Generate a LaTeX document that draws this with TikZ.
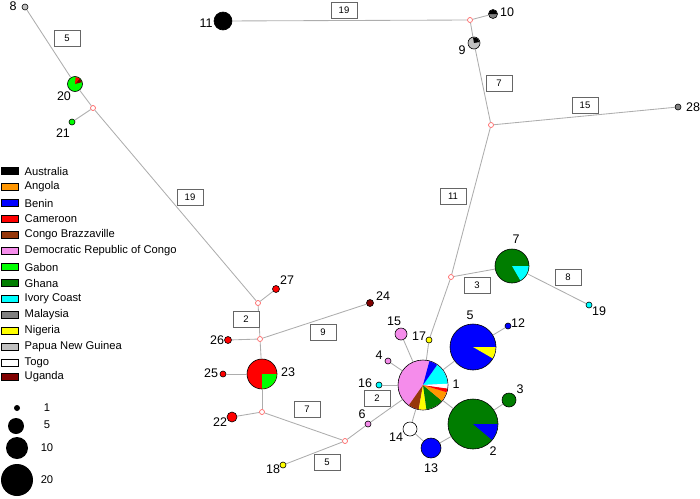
\documentclass[tikz,border=0pt]{standalone}
\usepackage{fontspec}
\setmainfont{Liberation Sans}
\definecolor{australia}{RGB}{0,0,0}
\definecolor{angola}{RGB}{255,150,0}
\definecolor{benin}{RGB}{0,0,255}
\definecolor{cameroon}{RGB}{255,0,0}
\definecolor{congob}{RGB}{150,55,10}
\definecolor{drc}{RGB}{245,140,235}
\definecolor{gabon}{RGB}{0,255,0}
\definecolor{ghana}{RGB}{0,125,0}
\definecolor{ivory}{RGB}{0,255,255}
\definecolor{malaysia}{RGB}{128,128,128}
\definecolor{nigeria}{RGB}{255,255,0}
\definecolor{png}{RGB}{192,192,192}
\definecolor{togo}{RGB}{255,255,255}
\definecolor{uganda}{RGB}{128,0,0}
\newcommand\pieslice[5]{\fill[#5] (#1.center) -- ++(#3:#2) arc[start angle=#3, end angle=#4, radius=#2] -- cycle;}

\begin{document}
\begin{tikzpicture}[x=1pt,y=1pt,font=\fontsize{12.5}{14}\selectfont,
    hap/.style={circle,draw=black,line width=0.6pt,inner sep=0pt},
    median/.style={circle,draw=red!60,fill=white,line width=0.7pt,inner sep=0pt,minimum size=5pt},
    link/.style={draw=black!32,line width=0.85pt},
    mutbox/.style={draw=black!60,fill=white,line width=0.7pt,minimum width=26pt,minimum height=16pt,inner sep=0pt,font=\fontsize{9.5}{10}\selectfont},
    legtext/.style={anchor=west,inner sep=0pt,font=\fontsize{11.2}{13}\selectfont}]
      \useasboundingbox (0,0) rectangle (700,-498);

      \node (m1) at (93,-108) [median] {};
      \node (m2) at (258,-303) [median] {};
      \node (m3) at (470,-20) [median] {};
      \node (m4) at (491,-125) [median] {};
      \node (m5) at (451,-277) [median] {};
      \node (m6) at (260,-339) [median] {};
      \node (m7) at (262,-412) [median] {};
      \node (m8) at (345,-441) [median] {};

      \node (h1) at (423,-385) [hap,minimum size=50pt,fill=drc] {};
      \node (h2) at (473,-424) [hap,minimum size=50pt,fill=ghana] {};
      \node (h3) at (509,-400) [hap,minimum size=14pt,fill=ghana] {};
      \node (h4) at (388,-361) [hap,minimum size=6pt,fill=drc] {};
      \node (h5) at (473,-347) [hap,minimum size=46pt,fill=benin] {};
      \node (h6) at (368,-424) [hap,minimum size=6pt,fill=drc] {};
      \node (h7) at (512,-266) [hap,minimum size=34pt,fill=ghana] {};
      \node (h8) at (25,-7) [hap,minimum size=6pt,fill=png] {};
      \node (h9) at (474,-43) [hap,minimum size=12pt,fill=png] {};
      \node (h10) at (493,-14) [hap,minimum size=9pt,fill=malaysia] {};
      \node (h11) at (223,-21) [hap,minimum size=18pt,fill=australia] {};
      \node (h12) at (508,-326) [hap,minimum size=6pt,fill=benin] {};
      \node (h13) at (431,-448) [hap,minimum size=20pt,fill=benin] {};
      \node (h14) at (410,-429) [hap,minimum size=14pt,fill=togo] {};
      \node (h15) at (401,-334) [hap,minimum size=12pt,fill=drc] {};
      \node (h16) at (379,-385) [hap,minimum size=6pt,fill=ivory] {};
      \node (h17) at (429,-340) [hap,minimum size=6pt,fill=nigeria] {};
      \node (h18) at (283,-465) [hap,minimum size=6pt,fill=nigeria] {};
      \node (h19) at (589,-305) [hap,minimum size=6pt,fill=ivory] {};
      \node (h20) at (75,-84) [hap,minimum size=15pt,fill=gabon] {};
      \node (h21) at (72,-122) [hap,minimum size=6pt,fill=gabon] {};
      \node (h22) at (232,-417) [hap,minimum size=10pt,fill=cameroon] {};
      \node (h23) at (262,-374) [hap,minimum size=30pt,fill=cameroon] {};
      \node (h24) at (370,-303) [hap,minimum size=7pt,fill=uganda] {};
      \node (h25) at (223,-374) [hap,minimum size=6pt,fill=cameroon] {};
      \node (h26) at (228,-340) [hap,minimum size=7pt,fill=cameroon] {};
      \node (h27) at (276,-289) [hap,minimum size=7pt,fill=cameroon] {};
      \node (h28) at (678,-107) [hap,minimum size=6pt,fill=malaysia] {};

      \pieslice{h1}{24.6pt}{3}{55}{ivory}
      \pieslice{h1}{24.6pt}{55}{75}{benin}
      \pieslice{h1}{24.6pt}{235}{260}{congob}
      \pieslice{h1}{24.6pt}{260}{278}{nigeria}
      \pieslice{h1}{24.6pt}{278}{320}{ghana}
      \pieslice{h1}{24.6pt}{320}{343}{angola}
      \pieslice{h1}{24.6pt}{343}{352}{cameroon}
      \pieslice{h1}{24.6pt}{352}{363}{togo}
      \pieslice{h5}{22.6pt}{-30}{0}{nigeria}
      \pieslice{h2}{24.6pt}{-40}{0}{benin}
      \pieslice{h7}{16.6pt}{-60}{0}{ivory}
      \pieslice{h23}{14.6pt}{-90}{0}{gabon}
      \pieslice{h9}{5.6pt}{10}{100}{australia}
      \pieslice{h10}{4.1pt}{0}{180}{australia}
      \pieslice{h20}{7.1pt}{15}{50}{uganda}
      \pieslice{h20}{7.1pt}{50}{85}{cameroon}

      \draw[link] (h8) -- (h20);
      \draw[link] (h20) -- (m1);
      \draw[link] (m1) -- (h21);
      \draw[link] (m1) -- (m2);
      \draw[link] (m2) -- (h27);
      \draw[link] (m2) -- (m6);
      \draw[link] (m6) -- (h26);
      \draw[link] (m6) -- (h24);
      \draw[link] (m6) -- (h23);
      \draw[link] (h23) -- (h25);
      \draw[link] (h23) -- (m7);
      \draw[link] (m7) -- (h22);
      \draw[link] (m7) -- (m8);
      \draw[link] (m8) -- (h18);
      \draw[link] (m8) -- (h6);
      \draw[link] (h6) -- (h1);
      \draw[link] (h1) -- (h16);
      \draw[link] (h1) -- (h4);
      \draw[link] (h1) -- (h15);
      \draw[link] (h1) -- (h17);
      \draw[link] (h17) -- (m5);
      \draw[link] (m5) -- (m4);
      \draw[link] (m5) -- (h7);
      \draw[link] (h7) -- (h19);
      \draw[link] (m4) -- (h28);
      \draw[link] (m4) -- (h9);
      \draw[link] (h9) -- (m3);
      \draw[link] (m3) -- (h10);
      \draw[link] (m3) -- (h11);
      \draw[link] (h1) -- (h5);
      \draw[link] (h5) -- (h12);
      \draw[link] (h1) -- (h2);
      \draw[link] (h2) -- (h3);
      \draw[link] (h1) -- (h14);
      \draw[link] (h14) -- (h13);
      \draw[link] (h13) -- (h2);

      \node (b1) at (67,-38) [mutbox] {5};
      \node (b2) at (190,-197) [mutbox] {19};
      \node (b3) at (344,-10) [mutbox] {19};
      \node (b4) at (499,-83) [mutbox] {7};
      \node (b5) at (585,-105) [mutbox] {15};
      \node (b6) at (453,-196) [mutbox] {11};
      \node (b7) at (477,-285) [mutbox] {3};
      \node (b8) at (568,-277) [mutbox] {8};
      \node (b9) at (246,-319) [mutbox] {2};
      \node (b10) at (323,-332) [mutbox] {9};
      \node (b11) at (307,-409) [mutbox] {7};
      \node (b12) at (327,-462) [mutbox] {5};
      \node (b13) at (377,-398) [mutbox] {2};

      \node (t1) at (456,-384) {1};
      \node (t2) at (493,-451) {2};
      \node (t3) at (520,-389) {3};
      \node (t4) at (379,-355) {4};
      \node (t5) at (470,-315) {5};
      \node (t6) at (362,-414) {6};
      \node (t7) at (516,-239) {7};
      \node (t8) at (13,-6) {8};
      \node (t9) at (462,-50) {9};
      \node (t10) at (507,-12) {10};
      \node (t11) at (206,-23) {11};
      \node (t12) at (518,-323) {12};
      \node (t13) at (431,-468) {13};
      \node (t14) at (396,-437) {14};
      \node (t15) at (394,-321) {15};
      \node (t16) at (365,-383) {16};
      \node (t17) at (419,-336) {17};
      \node (t18) at (273,-469) {18};
      \node (t19) at (599,-311) {19};
      \node (t20) at (64,-96) {20};
      \node (t21) at (63,-133) {21};
      \node (t22) at (220,-422) {22};
      \node (t23) at (288,-372) {23};
      \node (t24) at (383,-296) {24};
      \node (t25) at (211,-373) {25};
      \node (t26) at (217,-340) {26};
      \node (t27) at (287,-280) {27};
      \node (t28) at (693,-107) {28};

      \draw[fill=australia] (1,-167.5) rectangle (18,-174.5);
      \node (k1) at (24.5,-171) [legtext] {Australia};
      \draw[fill=angola] (1,-183.5) rectangle (18,-190.5);
      \node (k2) at (24.5,-187) [legtext] {Angola};
      \draw[fill=benin] (1,-199.5) rectangle (18,-206.5);
      \node (k3) at (24.5,-203) [legtext] {Benin};
      \draw[fill=cameroon] (1,-215.5) rectangle (18,-222.5);
      \node (k4) at (24.5,-219) [legtext] {Cameroon};
      \draw[fill=congob] (1,-231.5) rectangle (18,-238.5);
      \node (k5) at (24.5,-235) [legtext] {Congo Brazzaville};
      \draw[fill=drc] (1,-247.5) rectangle (18,-254.5);
      \node (k6) at (24.5,-251) [legtext] {Democratic Republic of Congo};
      \draw[fill=gabon] (1,-263.5) rectangle (18,-270.5);
      \node (k7) at (24.5,-267) [legtext] {Gabon};
      \draw[fill=ghana] (1,-279.5) rectangle (18,-286.5);
      \node (k8) at (24.5,-283) [legtext] {Ghana};
      \draw[fill=ivory] (1,-295.5) rectangle (18,-302.5);
      \node (k9) at (24.5,-299) [legtext] {Ivory Coast};
      \draw[fill=malaysia] (1,-311.5) rectangle (18,-318.5);
      \node (k10) at (24.5,-315) [legtext] {Malaysia};
      \draw[fill=nigeria] (1,-327.5) rectangle (18,-334.5);
      \node (k11) at (24.5,-331) [legtext] {Nigeria};
      \draw[fill=png] (1,-343.5) rectangle (18,-350.5);
      \node (k12) at (24.5,-347) [legtext] {Papua New Guinea};
      \draw[fill=togo] (1,-359.5) rectangle (18,-366.5);
      \node (k13) at (24.5,-363) [legtext] {Togo};
      \draw[fill=uganda] (1,-373.5) rectangle (18,-380.5);
      \node (k14) at (24.5,-377) [legtext] {Uganda};

      \node (s1) at (17,-408) [circle,fill=black,inner sep=0pt,minimum size=6pt] {};
      \node (s5) at (16,-426) [circle,fill=black,inner sep=0pt,minimum size=16pt] {};
      \node (s10) at (17,-448) [circle,fill=black,inner sep=0pt,minimum size=22pt] {};
      \node (s20) at (17,-480) [circle,fill=black,inner sep=0pt,minimum size=32pt] {};
      \node (z1) at (47,-408) [legtext,anchor=center] {1};
      \node (z5) at (47,-425) [legtext,anchor=center] {5};
      \node (z10) at (47,-448) [legtext,anchor=center] {10};
      \node (z20) at (47,-480) [legtext,anchor=center] {20};
    \end{tikzpicture}
\end{document}
